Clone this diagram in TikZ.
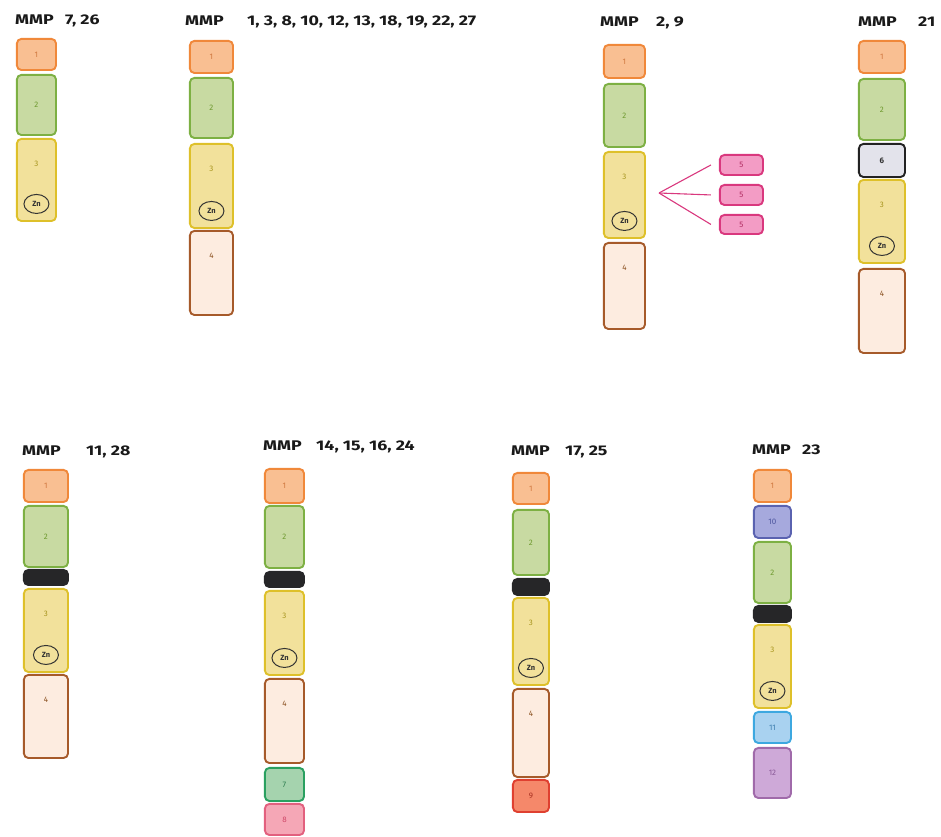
\documentclass[tikz,border=0pt]{standalone}
\usepackage{fontspec}
\setmainfont{Fira Sans}
\newfontfamily\titlefont[FakeStretch=1.27]{Fira Sans}
\usetikzlibrary{positioning}
\usetikzlibrary{shapes.geometric}

\definecolor{f1}{HTML}{F9BF92}\definecolor{l1}{HTML}{F0883A}\definecolor{t1}{HTML}{D07840}
\definecolor{f2}{HTML}{C8DAA2}\definecolor{l2}{HTML}{7DB043}\definecolor{t2}{HTML}{6F9A30}
\definecolor{f3}{HTML}{F2E19B}\definecolor{l3}{HTML}{DEC02A}\definecolor{t3}{HTML}{A89520}
\definecolor{f4}{HTML}{FDECE0}\definecolor{l4}{HTML}{A65A2A}\definecolor{t4}{HTML}{8A5020}
\definecolor{f5}{HTML}{F39CC5}\definecolor{l5}{HTML}{D9387E}\definecolor{t5}{HTML}{B02A60}
\definecolor{f6}{HTML}{E3E3EB}\definecolor{l6}{HTML}{222222}\definecolor{t6}{HTML}{333333}
\definecolor{f7}{HTML}{A5D3AE}\definecolor{l7}{HTML}{2AA060}\definecolor{t7}{HTML}{2E7E50}
\definecolor{f8}{HTML}{F5A7B6}\definecolor{l8}{HTML}{E2607E}\definecolor{t8}{HTML}{D04A6A}
\definecolor{f9}{HTML}{F5886A}\definecolor{l9}{HTML}{DF4030}\definecolor{t9}{HTML}{A83020}
\definecolor{f10}{HTML}{A6A9DD}\definecolor{l10}{HTML}{5A62B0}\definecolor{t10}{HTML}{5058A0}
\definecolor{f11}{HTML}{A9D2F0}\definecolor{l11}{HTML}{3DA8E0}\definecolor{t11}{HTML}{4080B0}
\definecolor{f12}{HTML}{CEA9D8}\definecolor{l12}{HTML}{A06AAA}\definecolor{t12}{HTML}{8A5A98}
\definecolor{barc}{HTML}{262628}

\begin{document}
\begin{tikzpicture}[x=1pt, y=-1pt,
        X/.style={rounded corners=4.5pt, line width=1.9pt, inner sep=0pt,
            anchor=north west, xshift=0.95pt, yshift=-0.95pt,
            font=\fontsize{8}{9}\selectfont},
        sz/.style 2 args={minimum width={#1-1.9}, minimum height={#2-1.9}},
        D1/.style={X, fill=f1, draw=l1, text=t1},
        D2/.style={X, fill=f2, draw=l2, text=t2},
        D3/.style={X, fill=f3, draw=l3, text=t3},
        D4/.style={X, fill=f4, draw=l4, text=t4},
        D5/.style={X, fill=f5, draw=l5, text=t5},
        D6/.style={X, fill=f6, draw=l6, text=t6, font=\fontsize{8}{9}\selectfont\bfseries},
        D7/.style={X, fill=f7, draw=l7, text=t7},
        D8/.style={X, fill=f8, draw=l8, text=t8},
        D9/.style={X, fill=f9, draw=l9, text=t9},
        D10/.style={X, fill=f10, draw=l10, text=t10},
        D11/.style={X, fill=f11, draw=l11, text=t11},
        D12/.style={X, fill=f12, draw=l12, text=t12},
        bar/.style={X, fill=barc, draw=barc},
        tx/.style={inner sep=0pt, font=\fontsize{8}{9}\selectfont},
        zn/.style={ellipse, draw=black!80, line width=1pt, minimum width=25pt,
            minimum height=19pt, inner sep=0pt, text=black!80,
            font=\fontsize{7.5}{8}\selectfont\bfseries},
        ttl/.style={anchor=base west, inner sep=0pt, text=black!90,
            font=\titlefont\bfseries\fontsize{14}{16}\selectfont},
        fan/.style={draw=l5, line width=1.1pt}
    ]

    \useasboundingbox (0,0) rectangle (941,836);

    % MMP 7, 26
    \node[ttl] (tA) at (15,24) {MMP};
    \node[ttl] (nA) at (65,24) {7, 26};
    \node[D1, sz={41}{33}] (a1) at (15,37) {1};
    \node[D2, sz={41}{62}] (a2) at (15,73) {2};
    \node[D3, sz={41}{84}] (a3) at (15,137) {};
    \node[tx, text=t3, below=23pt of a3.north] (a3t) {3};
    \node[zn, above=8pt of a3.south] (a3z) {Zn};

    % MMP 1, 3, 8, ...
    \node[ttl] (tB) at (185,25) {MMP};
    \node[ttl] (nB) at (247,25) {1, 3, 8, 10, 12, 13, 18, 19, 22, 27};
    \node[D1, sz={45}{34}] (b1) at (188,39) {1};
    \node[D2, sz={45}{62}] (b2) at (188,76) {2};
    \node[D3, sz={45}{86}] (b3) at (188,142) {};
    \node[tx, text=t3, below=23pt of b3.north] (b3t) {3};
    \node[zn, above=8pt of b3.south] (b3z) {Zn};
    \node[D4, sz={45}{86}] (b4) at (188,229) {};
    \node[tx, text=t4, below=23pt of b4.north] (b4t) {4};

    % MMP 2, 9
    \node[ttl] (tC) at (600,26) {MMP};
    \node[ttl] (nC) at (656,26) {2, 9};
    \node[D1, sz={43}{35}] (c1) at (602,43) {1};
    \node[D2, sz={43}{65}] (c2) at (602,82) {2};
    \node[D3, sz={43}{88}] (c3) at (602,150) {};
    \node[tx, text=t3, below=23pt of c3.north] (c3t) {3};
    \node[zn, above=8pt of c3.south] (c3z) {Zn};
    \node[D4, sz={43}{88}] (c4) at (602,241) {};
    \node[tx, text=t4, below=23pt of c4.north] (c4t) {4};
    \node[D5, sz={45}{22}] (c5a) at (718,153) {5};
    \node[D5, sz={45}{22}] (c5b) at (718,183) {5};
    \node[D5, sz={45}{21}] (c5c) at (718,213) {5};
    \coordinate (c5o) at (659,193);
    \foreach \p in {c5a,c5b,c5c}
        \draw[fan] (c5o) -- ([xshift=-8pt]\p.west);

    % MMP 21
    \node[ttl] (tD) at (858,26) {MMP};
    \node[ttl] (nD) at (918,26) {21};
    \node[D1, sz={48}{34}] (d1) at (857,39) {1};
    \node[D2, sz={48}{63}] (d2) at (857,77) {2};
    \node[D6, sz={48}{35}] (d6) at (857,142) {6};
    \node[D3, sz={48}{85}] (d3) at (857,178) {};
    \node[tx, text=t3, below=23pt of d3.north] (d3t) {3};
    \node[zn, above=8pt of d3.south] (d3z) {Zn};
    \node[D4, sz={48}{86}] (d4) at (857,267) {};
    \node[tx, text=t4, below=23pt of d4.north] (d4t) {4};

    % MMP 11, 28
    \node[ttl] (tE) at (22,455) {MMP};
    \node[ttl] (nE) at (86,455) {11, 28};
    \node[D1, sz={46}{34}] (e1) at (22,468) {1};
    \node[D2, sz={46}{63}] (e2) at (22,504) {2};
    \node[bar, sz={46}{17}] (eb) at (22,568) {};
    \node[D3, sz={46}{85}] (e3) at (22,587) {};
    \node[tx, text=t3, below=23pt of e3.north] (e3t) {3};
    \node[zn, above=8pt of e3.south] (e3z) {Zn};
    \node[D4, sz={46}{85}] (e4) at (22,673) {};
    \node[tx, text=t4, below=23pt of e4.north] (e4t) {4};

    % MMP 14, 15, 16, 24
    \node[ttl] (tF) at (263,450) {MMP};
    \node[ttl] (nF) at (316,450) {14, 15, 16, 24};
    \node[D1, sz={41}{36}] (f1) at (263,467) {1};
    \node[D2, sz={41}{64}] (f2) at (263,504) {2};
    \node[bar, sz={41}{17}] (fb) at (263,570) {};
    \node[D3, sz={41}{86}] (f3) at (263,589) {};
    \node[tx, text=t3, below=23pt of f3.north] (f3t) {3};
    \node[zn, above=8pt of f3.south] (f3z) {Zn};
    \node[D4, sz={41}{86}] (f4) at (263,677) {};
    \node[tx, text=t4, below=23pt of f4.north] (f4t) {4};
    \node[D7, sz={41}{35}] (f7) at (263,766) {7};
    \node[D8, sz={41}{33}] (f8) at (263,802) {8};

    % MMP 17, 25
    \node[ttl] (tG) at (511,455) {MMP};
    \node[ttl] (nG) at (565,455) {17, 25};
    \node[D1, sz={38}{33}] (g1) at (511,471) {1};
    \node[D2, sz={38}{67}] (g2) at (511,508) {2};
    \node[bar, sz={38}{18}] (gb) at (511,577) {};
    \node[D3, sz={38}{89}] (g3) at (511,596) {};
    \node[tx, text=t3, below=23pt of g3.north] (g3t) {3};
    \node[zn, above=8pt of g3.south] (g3z) {Zn};
    \node[D4, sz={38}{90}] (g4) at (511,687) {};
    \node[tx, text=t4, below=23pt of g4.north] (g4t) {4};
    \node[D9, sz={38}{34}] (g9) at (511,778) {9};

    % MMP 23
    \node[ttl] (tH) at (752,454) {MMP};
    \node[ttl] (nH) at (802,454) {23};
    \node[D1, sz={39}{34}] (h1) at (752,468) {1};
    \node[D10, sz={39}{34}] (h10) at (752,504) {10};
    \node[D2, sz={39}{63}] (h2) at (752,540) {2};
    \node[bar, sz={39}{18}] (hb) at (752,604) {};
    \node[D3, sz={39}{85}] (h3) at (752,623) {};
    \node[tx, text=t3, below=23pt of h3.north] (h3t) {3};
    \node[zn, above=8pt of h3.south] (h3z) {Zn};
    \node[D11, sz={39}{33}] (h11) at (752,710) {11};
    \node[D12, sz={39}{52}] (h12) at (752,746) {12};
\end{tikzpicture}
\end{document}
